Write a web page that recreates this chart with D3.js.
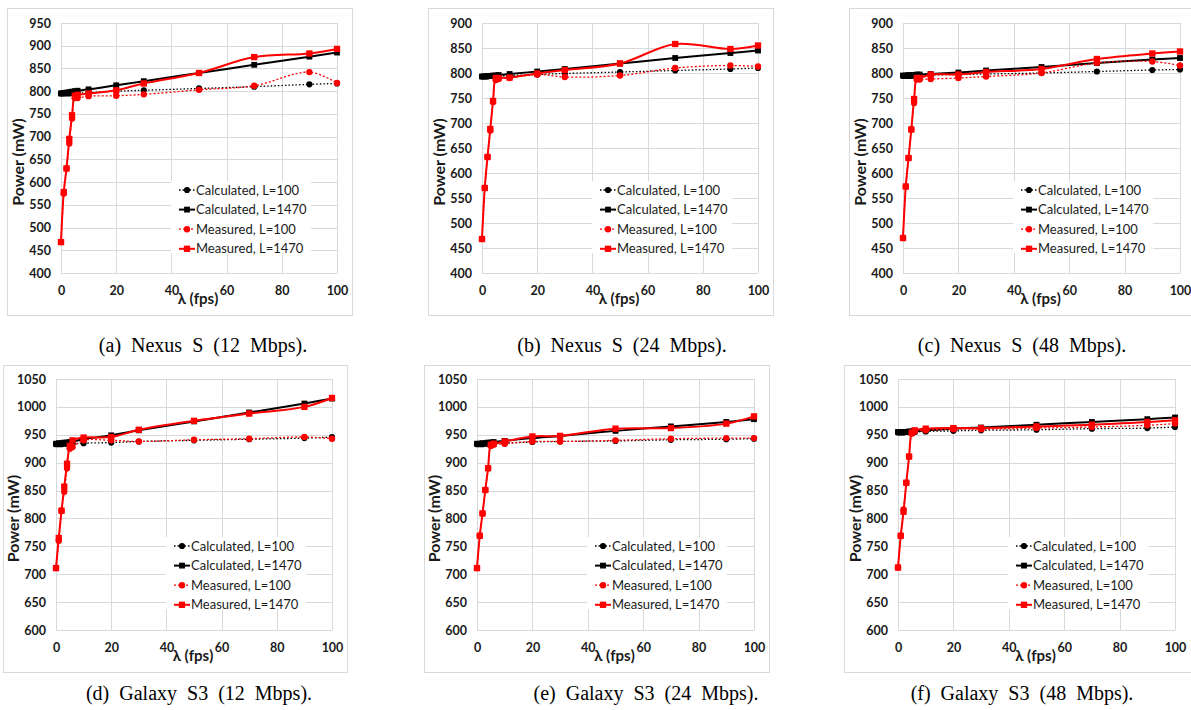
<!DOCTYPE html>
<html><head><meta charset="utf-8">
<script src="https://cdn.jsdelivr.net/npm/d3@7"></script>
<style>
html,body{margin:0;padding:0;background:#fff;}
svg{display:block;}
.tick text{font-family:Lato, "Open Sans", sans-serif;font-weight:700;font-size:12.5px;fill:#1a1a1a;}
</style>
</head><body>
<svg id="chart" width="1191" height="710"></svg>
<script>
// ---- data ----
const lambda = [0,1,2,3,4,5,6,10,20,30,50,70,90,100];
const xTicks = [0,20,40,60,80,100];
const seriesNames = ["Calculated, L=100","Calculated, L=1470","Measured, L=100","Measured, L=1470"];
const captions = ["(a) Nexus S (12 Mbps).","(b) Nexus S (24 Mbps).","(c) Nexus S (48 Mbps).",
                  "(d) Galaxy S3 (12 Mbps).","(e) Galaxy S3 (24 Mbps).","(f) Galaxy S3 (48 Mbps)."];
const nexusYDomainA = [400,950];
const nexusYDomain = [400,900];
const galaxyYDomain = [600,1050];

const nexus12Calc100  = [795,795,795,795,796,796,796,797,800,802,806,810,815,817];
const nexus12Calc1470 = [795,796,797,798,799,800,801,804,813,822,840,858,876,885];
const nexus12Meas100  = [468,575,630,685,740,785,785,789,790,793,803,812,842,818];
const nexus12Meas1470 = [468,578,630,695,747,790,792,795,802,817,840,875,883,893];

const nexus24Calc100  = [793,793,793,794,794,794,794,795,797,799,802,805,808,810];
const nexus24Calc1470 = [793,793,794,794,795,795,796,798,803,808,819,830,840,845];
const nexus24Meas100  = [468,570,632,685,742,786,788,790,797,792,795,810,815,813];
const nexus24Meas1470 = [468,570,632,688,744,790,790,791,799,806,819,858,848,855];

const nexus48Calc100  = [794,794,794,794,795,795,795,796,797,798,800,803,806,807];
const nexus48Calc1470 = [795,795,796,796,796,797,797,798,801,805,812,820,827,830];
const nexus48Meas100  = [470,573,630,687,740,787,787,788,790,793,800,820,823,815];
const nexus48Meas1470 = [470,573,630,687,748,790,790,797,797,802,808,828,839,843];

const galaxy12Calc100  = [933,933,933,934,934,934,934,935,936,938,940,942,944,946];
const galaxy12Calc1470 = [934,935,935,936,936,937,938,942,949,958,974,990,1006,1015];
const galaxy12Meas100  = [711,760,814,848,890,925,928,940,940,938,941,943,946,943];
const galaxy12Meas1470 = [711,765,814,857,898,930,940,945,946,959,975,988,1000,1016];

const galaxy24Calc100  = [933,933,933,934,934,934,934,935,937,938,939,941,942,943];
const galaxy24Calc1470 = [934,934,935,935,936,936,937,939,944,948,957,965,973,978];
const galaxy24Meas100  = [711,769,809,851,890,930,932,934,938,938,940,943,944,944];
const galaxy24Meas1470 = [711,769,809,851,890,932,934,938,947,948,961,962,970,983];

const galaxy48Calc100  = [954,954,954,955,955,955,955,956,957,958,959,961,962,964];
const galaxy48Calc1470 = [955,955,955,955,956,956,956,958,961,963,968,973,978,981];
const galaxy48Meas100  = [712,769,816,864,911,952,956,958,960,960,962,964,967,970];
const galaxy48Meas1470 = [712,769,812,864,911,954,958,961,962,962,965,968,973,976];

// ---- layout (positions / styles) ----
const panels = [
  {frame:[7,8,352,315],   l:61,  r:337,  t:23,  b:273, dom:nexusYDomainA, cap:[203,352],
   s:[nexus12Calc100,nexus12Calc1470,nexus12Meas100,nexus12Meas1470]},
  {frame:[428,8,773,315], l:482, r:758,  t:23,  b:273, dom:nexusYDomain, cap:[622,352],
   s:[nexus24Calc100,nexus24Calc1470,nexus24Meas100,nexus24Meas1470]},
  {frame:[849,8,1196,315],l:903, r:1180, t:23,  b:273, dom:nexusYDomain, cap:[1022,352],
   s:[nexus48Calc100,nexus48Calc1470,nexus48Meas100,nexus48Meas1470]},
  {frame:[3,365,347,672], l:56,  r:332,  t:379, b:630, dom:galaxyYDomain, cap:[199,700],
   s:[galaxy12Calc100,galaxy12Calc1470,galaxy12Meas100,galaxy12Meas1470]},
  {frame:[424,365,769,672],l:477,r:754,  t:379, b:630, dom:galaxyYDomain, cap:[646,700],
   s:[galaxy24Calc100,galaxy24Calc1470,galaxy24Meas100,galaxy24Meas1470]},
  {frame:[844,365,1196,672],l:898,r:1175,t:379, b:630, dom:galaxyYDomain, cap:[1022,700],
   s:[galaxy48Calc100,galaxy48Calc1470,galaxy48Meas100,galaxy48Meas1470]}
];
const styles = [
  {color:"#000", width:1.3, dash:"1.5,2", sym:d3.symbolCircle, size:30},
  {color:"#000", width:2,   dash:null,    sym:d3.symbolSquare, size:34},
  {color:"#ff0000", width:1.3, dash:"2,2", sym:d3.symbolCircle, size:32},
  {color:"#ff0000", width:2, dash:null,   sym:d3.symbolSquare, size:40}
];
const gridColor = "#d9d9d9";

const svg = d3.select("#chart");

panels.forEach((p, pi) => {
  const g = svg.append("g");
  // frame
  g.append("rect").attr("x", p.frame[0]+0.5).attr("y", p.frame[1]+0.5)
    .attr("width", p.frame[2]-p.frame[0]).attr("height", p.frame[3]-p.frame[1])
    .attr("fill","#fff").attr("stroke", "#d9d9d9").attr("stroke-width",1);

  const x = d3.scaleLinear().domain([0,100]).range([p.l, p.r]);
  const y = d3.scaleLinear().domain(p.dom).range([p.b, p.t]);
  const yTicks = d3.range(p.dom[0], p.dom[1]+1, 50);

  // grid
  g.append("g").selectAll("line.h").data(yTicks).join("line")
    .attr("x1", p.l).attr("x2", p.r)
    .attr("y1", d => Math.round(y(d))+0.5).attr("y2", d => Math.round(y(d))+0.5)
    .attr("stroke", gridColor).attr("stroke-width",1);
  g.append("g").selectAll("line.v").data(xTicks).join("line")
    .attr("y1", p.t).attr("y2", p.b)
    .attr("x1", d => Math.round(x(d))+0.5).attr("x2", d => Math.round(x(d))+0.5)
    .attr("stroke", gridColor).attr("stroke-width",1);

  // axes (labels only)
  const ya = g.append("g").attr("transform", `translate(${p.l},0)`)
    .call(d3.axisLeft(y).tickValues(yTicks).tickSize(0).tickPadding(10).tickFormat(d3.format("d")));
  ya.select(".domain").remove();
  const xa = g.append("g").attr("transform", `translate(0,${p.b})`)
    .call(d3.axisBottom(x).tickValues(xTicks).tickSize(0).tickPadding(13).tickFormat(d3.format("d")));
  xa.select(".domain").remove();

  // axis titles
  g.append("text").attr("x", x(50)-1).attr("y", p.b+31)
    .attr("text-anchor","middle")
    .style("font-family","Lato, 'Open Sans', sans-serif").style("font-weight","700").style("font-size","15px")
    .attr("fill","#1a1a1a").text("λ (fps)");
  g.append("text").attr("transform", `translate(${p.l-37},${(p.t+p.b)/2+14}) rotate(-90)`)
    .attr("text-anchor","middle")
    .style("font-family","Lato, 'Open Sans', sans-serif").style("font-weight","700").style("font-size","16px")
    .attr("fill","#1a1a1a").text("Power (mW)");

  // legend background
  const lgx = p.l + 110, lgy = p.t + 158;
  g.append("rect").attr("x", lgx).attr("y", lgy).attr("width", 140).attr("height", 72).attr("fill","#fff");

  // series
  p.s.forEach((vals, si) => {
    const st = styles[si];
    const pts = lambda.map((lx, i) => [lx, vals[i]]);
    const line = d3.line().x(d => x(d[0])).y(d => y(d[1])).curve(d3.curveCatmullRom.alpha(0.5));
    g.append("path").datum(pts).attr("d", line)
      .attr("fill","none").attr("stroke", st.color).attr("stroke-width", st.width)
      .attr("stroke-dasharray", st.dash);
    g.append("g").selectAll("path").data(pts).join("path")
      .attr("transform", d => `translate(${x(d[0])},${y(d[1])})`)
      .attr("d", d3.symbol().type(st.sym).size(st.size))
      .attr("fill", st.color);
  });

  // legend
  seriesNames.forEach((name, si) => {
    const st = styles[si];
    const ly = p.t + 167 + si*19.6;
    const lx0 = p.l + 118;
    g.append("line").attr("x1", lx0).attr("x2", lx0+16).attr("y1", ly).attr("y2", ly)
      .attr("stroke", st.color).attr("stroke-width", st.width).attr("stroke-dasharray", st.dash);
    g.append("path").attr("transform", `translate(${lx0+8},${ly})`)
      .attr("d", d3.symbol().type(st.sym).size(st.size)).attr("fill", st.color);
    g.append("text").attr("x", lx0+17).attr("y", ly).attr("dy","0.35em")
      .style("font-family","Lato, 'Open Sans', sans-serif").style("font-size","13px")
      .attr("fill","#1a1a1a").text(name);
  });

  // caption
  svg.append("text").attr("x", p.cap[0]).attr("y", p.cap[1]).attr("text-anchor","middle")
    .style("font-family","'Liberation Serif', 'Times New Roman', serif").style("font-size","20px")
    .style("word-spacing","5px")
    .attr("fill","#000").text(captions[pi]);
});
</script>
</body></html>
